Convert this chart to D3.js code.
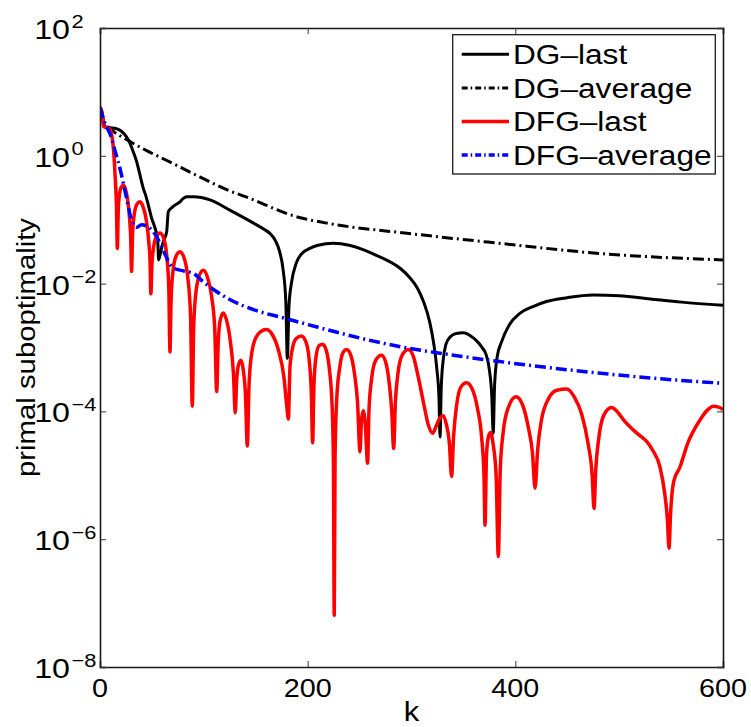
<!DOCTYPE html>
<html>
<head>
<meta charset="utf-8">
<script src="https://cdn.jsdelivr.net/npm/d3@7"></script>
<style>
  html, body { margin: 0; padding: 0; background: #fff; }
  svg text { font-family: "Liberation Sans", Arial, Helvetica, sans-serif; fill: #000; }
</style>
</head>
<body>
<svg id="chart" width="751" height="727"></svg>
<script>
// values are [k, log10(primal suboptimality)]
const dgLast = [
  [0, 0.76], [1.6, 0.70], [4.8, 0.455], [10, 0.44], [14.4, 0.43], [18, 0.41], [20.9, 0.38], [24, 0.33],
  [27.3, 0.25], [30, 0.15], [32, 0.065], [35.3, -0.09], [38.5, -0.30], [41.7, -0.51], [44, -0.62],
  [46.5, -0.77], [49.8, -0.98], [53, -1.13], [55.5, -1.30], [56.5, -1.63], [58.5, -1.5], [61, -1.34],
  [64.2, -1.19], [65.8, -0.875], [70, -0.8], [77, -0.72], [80, -0.67], [83.5, -0.64], [90, -0.64],
  [106, -0.69], [125, -0.85], [147.5, -1.05], [158, -1.15], [164, -1.22], [169, -1.33], [173, -1.5],
  [176.5, -1.8], [179, -2.3], [180.4, -3.17], [182, -2.35], [184.5, -1.98], [189, -1.68], [195, -1.52],
  [202, -1.45], [210, -1.40], [224.7, -1.37], [240, -1.40], [252, -1.46], [265, -1.55], [277, -1.64],
  [289, -1.76], [298, -1.9], [306, -2.08], [312, -2.3], [317.5, -2.6], [321.5, -2.95], [324.5, -3.35],
  [326.5, -3.8], [327.5, -4.4], [328.6, -3.65], [330.5, -3.2], [333, -2.96], [337, -2.84], [343, -2.78],
  [350, -2.77], [357, -2.82], [363, -2.9], [368, -3.0], [372, -3.12], [375, -3.35], [377.3, -3.75],
  [378.7, -4.34], [380, -3.6], [382.5, -3.15], [387, -2.9], [394, -2.65], [404, -2.47], [417, -2.36],
  [430, -2.28], [450, -2.22], [475, -2.18], [500, -2.19], [530, -2.24], [560, -2.29], [600, -2.34]
];

const dgAverage = [
  [0, 0.76], [5, 0.5], [10, 0.42], [26, 0.25], [45, 0.08], [64, -0.07], [96, -0.33], [125, -0.55],
  [140, -0.64], [193, -0.97], [217, -1.05], [300, -1.22], [385, -1.37], [482, -1.53], [600, -1.63]
];

const dfgLast = [
  [0, 0.76], [1.5, 0.70], [3.5, 0.46], [6, 0.44], [9.6, 0.42], [11.5, 0.30], [13, 0.10], [14.5, -0.30],
  [15.8, -0.75], [16.7, -1.45],
  [17.6, -0.85], [18.8, -0.6], [20.5, -0.49], [22.5, -0.46], [24.5, -0.52], [26.5, -0.68], [28.5, -0.98],
  [29.6, -1.3], [30.4, -1.81],
  [31.4, -1.2], [33, -0.92], [35.5, -0.76], [38.5, -0.72], [41.5, -0.80], [44.5, -1.0], [47, -1.35],
  [48.2, -1.65], [49, -2.16],
  [50, -1.7], [51.5, -1.45], [54, -1.27], [57.8, -1.21], [61.5, -1.3], [64.5, -1.6], [66.3, -2.1], [67.4, -3.07],
  [68.4, -2.3], [70, -1.85], [73, -1.58], [77, -1.50], [81, -1.6], [84.5, -1.9], [87.2, -2.5], [88.9, -3.92],
  [90.2, -2.7], [92, -2.2], [95.5, -1.88], [99.5, -1.79], [103.5, -1.9], [107.5, -2.2], [110.5, -2.7], [112.4, -3.69],
  [113.8, -2.95], [115.5, -2.6], [118.7, -2.46], [122, -2.58], [125.5, -2.9], [128.5, -3.4], [130.3, -4.02],
  [131.5, -3.55], [133, -3.3], [135.7, -3.2], [138, -3.35], [140, -3.7], [141.9, -4.54],
  [143.5, -3.6], [146, -3.1], [150, -2.85], [155, -2.75], [160, -2.72], [166, -2.8], [172, -3.05],
  [177, -3.45], [179.8, -3.9], [181.4, -4.12],
  [183, -3.3], [185.5, -3.0], [189, -2.86], [194, -2.82], [198.5, -2.92], [201.5, -3.2], [203.5, -3.7], [204.8, -4.49],
  [206, -3.6], [208, -3.15], [211, -2.97], [214.4, -2.95], [218, -3.05], [221, -3.35], [223.5, -3.9],
  [224.8, -4.8], [225.6, -7.19],
  [226.4, -4.7], [228, -3.8], [231, -3.3], [234, -3.08], [237.5, -3.03], [241.5, -3.12], [245, -3.4],
  [248, -3.85], [250.4, -4.63],
  [251.8, -4.15], [253.5, -3.99], [255.5, -4.2], [257.7, -4.81],
  [259, -4.0], [261.5, -3.5], [265.5, -3.2], [271.2, -3.12], [275.5, -3.25], [278.5, -3.55], [281, -4.0], [282.8, -4.58],
  [284.5, -3.85], [287, -3.4], [291, -3.12], [296.9, -3.03], [302, -3.15], [307, -3.5], [312, -3.9],
  [316, -4.2], [320.3, -4.34],
  [324, -4.22], [327.5, -4.1], [330.6, -4.07], [333.5, -4.2], [336.5, -4.5], [338.6, -5.02],
  [340.5, -4.4], [343.5, -3.9], [347.5, -3.62], [353, -3.55], [358.5, -3.65], [363.5, -3.95], [367.5, -4.4],
  [369.8, -5.0], [370.8, -5.78],
  [372.2, -4.7], [374, -4.4], [376.2, -4.33], [378.5, -4.5], [381.5, -5.0], [383.6, -6.27],
  [385.5, -4.9], [388.5, -4.3], [393, -3.95], [400.7, -3.77], [407, -3.9], [412.5, -4.25], [416.5, -4.65], [419, -5.20],
  [421.5, -4.6], [425, -4.15], [432, -3.8], [440, -3.67], [449.4, -3.65], [457, -3.78], [464, -4.05],
  [470, -4.5], [474, -5.0], [475.8, -5.52],
  [477.5, -4.9], [480.5, -4.4], [485.5, -4.05], [492.7, -3.94], [498, -4.0], [505, -4.15], [513.6, -4.29],
  [520, -4.38], [526.4, -4.47], [532, -4.6], [539.3, -4.87], [544, -5.3], [546.5, -5.7], [548, -6.14],
  [549.5, -5.6], [552.5, -5.1], [558.6, -4.87], [566, -4.5], [578, -4.13], [585, -3.98], [590.7, -3.92],
  [595, -3.93], [600, -3.97]
];

const dfgAverage = [
  [0, 0.76], [5, 0.50], [10, 0.33], [15, 0.05], [20, -0.25], [25, -0.62], [30, -0.98], [35, -1.12],
  [40, -1.08], [47, -1.12], [55, -1.28], [62, -1.52], [70, -1.75], [80, -1.80], [90, -1.84], [100, -1.98],
  [110, -2.1], [125, -2.25], [150, -2.42], [175, -2.53], [200, -2.64], [250, -2.85], [290, -2.99],
  [340, -3.12], [385, -3.22], [430, -3.31], [480, -3.40], [540, -3.49], [600, -3.56]
];

const seriesNames = ['DG\u2013last', 'DG\u2013average', 'DFG\u2013last', 'DFG\u2013average'];
const xTicks = [0, 200, 400, 600];
const yTickExps = [2, 0, -2, -4, -6, -8];

const series = [
  {name: seriesNames[0], data: dgLast,     color: '#000', width: 3,   dash: null},
  {name: seriesNames[1], data: dgAverage,  color: '#000', width: 3,   dash: '11,4,2,4'},
  {name: seriesNames[2], data: dfgLast,    color: '#f00', width: 3.5, dash: null},
  {name: seriesNames[3], data: dfgAverage, color: '#00f', width: 3.5, dash: '11,4,2,4'}
];

const svg = d3.select('#chart');
const box = {left: 100, right: 723, top: 28, bottom: 667};

const x = d3.scaleLinear().domain([0, 600]).range([box.left, box.right]);
const y = d3.scaleLog().domain([1e-8, 1e2]).range([box.bottom, box.top]);

svg.append('defs').append('clipPath').attr('id', 'plotclip')
  .append('rect')
  .attr('x', box.left).attr('y', box.top)
  .attr('width', box.right - box.left).attr('height', box.bottom - box.top);

// wide-ish helvetica look: stretch text along its own direction
function label(g, str, tx, ty, size, anchor, rot) {
  return g.append('text')
    .attr('transform', `translate(${tx},${ty})` + (rot ? ` rotate(${rot})` : '') + ' scale(1.15,1)')
    .attr('text-anchor', anchor)
    .style('font-size', size + 'px')
    .text(str);
}

// curves
const line = d3.line()
  .x(d => x(d[0]))
  .y(d => y(Math.pow(10, d[1])))
  .curve(d3.curveMonotoneX);

const plot = svg.append('g').attr('clip-path', 'url(#plotclip)');
series.forEach(s => {
  plot.append('path')
    .datum(s.data)
    .attr('d', line)
    .attr('fill', 'none')
    .attr('stroke', s.color)
    .attr('stroke-width', s.width)
    .attr('stroke-linejoin', 'round')
    .attr('stroke-dasharray', s.dash);
});

// axes, ticks pointing in, on all four sides
const axisG = svg.append('g').attr('class', 'axes');
axisG.append('g')
  .attr('transform', `translate(0,${box.bottom})`)
  .call(d3.axisBottom(x).tickValues(xTicks).tickSize(-6).tickFormat(''));
axisG.append('g')
  .attr('transform', `translate(0,${box.top})`)
  .call(d3.axisTop(x).tickValues(xTicks).tickSize(-6).tickFormat(''));
const yTickVals = yTickExps.map(e => Math.pow(10, e));
axisG.append('g')
  .attr('transform', `translate(${box.left},0)`)
  .call(d3.axisLeft(y).tickValues(yTickVals).tickSize(-6).tickFormat(''));
axisG.append('g')
  .attr('transform', `translate(${box.right},0)`)
  .call(d3.axisRight(y).tickValues(yTickVals).tickSize(-6).tickFormat(''));
axisG.selectAll('.domain').attr('stroke', '#1a1a1a').attr('stroke-width', 1.6);
axisG.selectAll('.tick line').attr('stroke', '#333').attr('stroke-width', 1);

// tick labels
const lab = svg.append('g');
xTicks.forEach(t => label(lab, String(t), x(t), 697, 25, 'middle'));
yTickExps.forEach(e => {
  const ty = y(Math.pow(10, e));
  label(lab, '10', 70, ty + 11, 28, 'end');
  label(lab, e < 0 ? '\u2212' + Math.abs(e) : String(e), 71.5, ty - 0.5, 19, 'start');
});

label(lab, 'k', x(300), 721, 27, 'middle');
label(lab, 'primal suboptimality', 35, (box.top + box.bottom) / 2, 25.5, 'middle', -90);

// legend
const lg = svg.append('g');
lg.append('rect')
  .attr('x', 452.7).attr('y', 34.7)
  .attr('width', 262.6).attr('height', 139.3)
  .attr('fill', '#fff').attr('stroke', '#1a1a1a').attr('stroke-width', 1.3);
series.forEach((s, i) => {
  const ry = 54.3 + i * 33.6;
  lg.append('line')
    .attr('x1', 461.7).attr('x2', 509).attr('y1', ry).attr('y2', ry)
    .attr('stroke', s.color).attr('stroke-width', s.width)
    .attr('stroke-dasharray', s.dash ? '6,3,1.5,3' : null);
  label(lg, s.name, 513, ry + 9.7, 27.5, 'start');
});
</script>
</body>
</html>
